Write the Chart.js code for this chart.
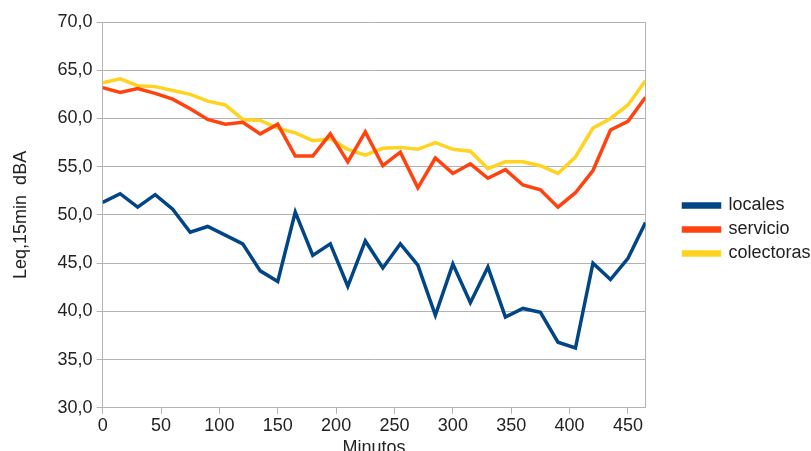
<!DOCTYPE html>
<html>
<head>
<meta charset="utf-8">
<script src="https://cdn.jsdelivr.net/npm/chart.js@4"></script>
<style>
  html, body { margin: 0; padding: 0; background: #fff; }
  #wrap { width: 811px; height: 451px; }
</style>
</head>
<body>
<div id="wrap"><canvas id="chart" width="811" height="451"></canvas></div>
<script>
// minutes, one reading every 15 min
const minutes = [0, 15, 30, 45, 60, 75, 90, 105, 120, 135, 150, 165, 180, 195, 210, 225,
                 240, 255, 270, 285, 300, 315, 330, 345, 360, 375, 390, 405, 420, 435, 450, 465];

const locales = [51.3, 52.2, 50.8, 52.1, 50.6, 48.2, 48.8, 47.9, 47.0, 44.2, 43.1, 50.3, 45.8, 47.0, 42.6, 47.3,
                 44.5, 47.0, 44.8, 39.6, 44.9, 40.9, 44.6, 39.4, 40.3, 39.9, 36.8, 36.2, 45.0, 43.3, 45.5, 49.2];
const servicio = [63.2, 62.7, 63.1, 62.6, 62.0, 61.0, 59.9, 59.4, 59.6, 58.4, 59.4, 56.1, 56.1, 58.4, 55.5, 58.6,
                  55.1, 56.5, 52.8, 55.9, 54.3, 55.3, 53.8, 54.7, 53.1, 52.6, 50.8, 52.3, 54.6, 58.8, 59.7, 62.2];
const colectoras = [63.7, 64.1, 63.4, 63.3, 62.9, 62.5, 61.8, 61.4, 59.9, 59.8, 59.0, 58.5, 57.7, 57.9, 56.8, 56.2,
                    56.9, 57.0, 56.8, 57.5, 56.8, 56.6, 54.8, 55.5, 55.5, 55.1, 54.3, 56.0, 59.0, 60.0, 61.4, 63.9];

const seriesNames = ['locales', 'servicio', 'colectoras'];
const seriesColors = ['#004586', '#ff420e', '#ffd320'];
const xTicks = [0, 50, 100, 150, 200, 250, 300, 350, 400, 450];

function toPoints(values) {
    return values.map((v, i) => ({ x: minutes[i], y: v }));
}

const allSeries = [locales, servicio, colectoras];
const datasets = allSeries.map((values, i) => ({
    label: seriesNames[i],
    data: toPoints(values),
    borderColor: seriesColors[i],
    backgroundColor: seriesColors[i],
    borderWidth: 3.5,
    pointRadius: 0,
    tension: 0
}));

const textColor = '#222';
const gridColor = '#b3b3b3';
const fontFamily = '"Liberation Sans", Arial, sans-serif';

// leave a gap between the plot and the legend on the right, and lift the legend a bit
const LEGEND_GAP = 24;
const LEGEND_LIFT = 11;
const legendGap = {
    id: 'legendGap',
    beforeInit(chart) {
        const origFit = chart.legend.fit;
        chart.legend.fit = function () {
            origFit.call(this);
            this.width += LEGEND_GAP;
        };
    },
    afterLayout(chart) {
        chart.legend.left += LEGEND_GAP;
        chart.legend.top -= LEGEND_LIFT;
        chart.legend.bottom -= LEGEND_LIFT;
    }
};

const ctx = document.getElementById('chart').getContext('2d');
new Chart(ctx, {
    type: 'line',
    data: { datasets: datasets },
    plugins: [legendGap],
    options: {
        responsive: false,
        animation: false,
        layout: { padding: { top: 22, right: 0, bottom: -8, left: 10 } },
        plugins: {
            legend: {
                position: 'right',
                labels: {
                    color: textColor,
                    font: { family: fontFamily, size: 18 },
                    boxWidth: 36,
                    boxHeight: 3,
                    padding: 6
                }
            },
            tooltip: { enabled: false }
        },
        scales: {
            x: {
                type: 'linear',
                min: 0,
                max: 465,
                afterBuildTicks: axis => {
                    axis.ticks = xTicks.map(v => ({ value: v }));
                },
                ticks: {
                    color: textColor,
                    font: { family: fontFamily, size: 18 },
                    padding: 1
                },
                grid: {
                    drawOnChartArea: false,
                    drawTicks: true,
                    tickLength: 6,
                    color: gridColor
                },
                border: { color: gridColor },
                title: {
                    display: true,
                    text: 'Minutos',
                    color: textColor,
                    font: { family: fontFamily, size: 18 },
                    padding: { top: 0, bottom: 0 }
                }
            },
            y: {
                min: 30,
                max: 70,
                ticks: {
                    stepSize: 5,
                    color: textColor,
                    font: { family: fontFamily, size: 18 },
                    padding: 4,
                    callback: v => v.toFixed(1).replace('.', ',')
                },
                grid: {
                    color: gridColor,
                    tickLength: 6
                },
                border: { color: gridColor },
                title: {
                    display: true,
                    text: 'Leq,15min  dBA',
                    color: textColor,
                    font: { family: fontFamily, size: 18 },
                    padding: { top: 0, bottom: 22 }
                }
            },
            y2: {
                position: 'right',
                min: 30,
                max: 70,
                ticks: { display: false },
                grid: { display: false },
                border: { color: gridColor }
            }
        }
    }
});
</script>
</body>
</html>
